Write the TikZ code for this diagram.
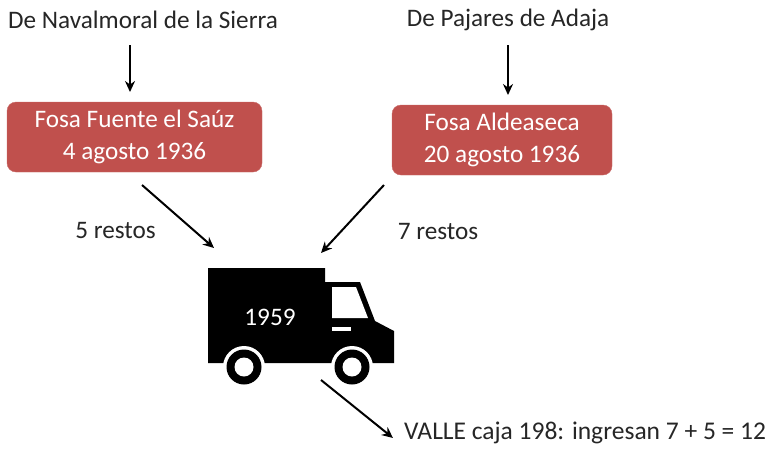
\documentclass[tikz,border=0pt]{standalone}
\usepackage{fontspec}
\setmainfont{Carlito}
\usetikzlibrary{arrows.meta}
\definecolor{fosa}{RGB}{192,80,77}
\definecolor{txt}{RGB}{38,38,38}
\tikzset{
 fosabox/.style={draw=fosa!85!white,fill=fosa,rounded corners=9pt,text=white,align=center,font=\fontsize{25.2}{32}\selectfont,anchor=center},
 lbl/.style={text=txt,font=\fontsize{25.2}{30}\selectfont,inner sep=0pt},
 arr/.style={-{Stealth[length=11pt,width=10pt]},line width=2pt,black},
}
\begin{document}
\begin{tikzpicture}[x=1pt,y=-1pt]
\useasboundingbox (0,0) rectangle (766,448);
\fill[white] (0,0) rectangle (766,448);
% truck
\fill[black] (208,268) -- (325,268) -- (325,282) -- (360,282) -- (375,321) -- (394,331) -- (394,363) -- (208,363) -- cycle;
\foreach \cx in {244,352}{
 \fill[white] (\cx,367) circle (21);
 \fill[black] (\cx,367) circle (17.5);
 \fill[white] (\cx,367) circle (9.5);
}
\fill[white] (332,287) -- (356,287) -- (368,318) -- (332,318) -- cycle;
\fill[white] (332,327) rectangle (351,331);
\fill[white] (190,384.5) rectangle (410,395);
\node[inner sep=0pt,text=white,font=\fontsize{25.2}{30}\selectfont] (yr) at (270,317) {1959};
% nodes
\node[fosabox,minimum width=255pt,minimum height=70pt] (f1) at (134.5,137) {\raisebox{-1pt}{Fosa Fuente el Saúz}\\\raisebox{-1pt}{4 agosto 1936}};
\node[fosabox,minimum width=220pt,minimum height=70pt] (f2) at (502,140) {\raisebox{-1pt}{Fosa Aldeaseca}\\\raisebox{-1pt}{20 agosto 1936}};
\node[lbl] (o1) at (143,20) {De Navalmoral de la Sierra};
\node[lbl] (o2) at (508,20) {De Pajares de Adaja};
\node[lbl] (r5) at (115.5,231) {5 restos};
\node[lbl] (r7) at (438,232) {7 restos};
\node[lbl,anchor=west,font=\fontsize{25.5}{30}\selectfont] (valle) at (404,433) {VALLE caja 198: ingresan 7 + 5 = 12};
% connector anchors
\coordinate (a1) at (130,45);
\coordinate (a2) at (130,92);
\coordinate (b1) at (508,45);
\coordinate (b2) at (508,95);
\coordinate (c1) at (142,185);
\coordinate (c2) at (214,248);
\coordinate (d1) at (384,185);
\coordinate (d2) at (321,253);
\coordinate (e1) at (321,380);
\coordinate (e2) at (393,438);
\draw[arr] (a1) -- (a2);
\draw[arr] (b1) -- (b2);
\draw[arr] (c1) -- (c2);
\draw[arr] (d1) -- (d2);
\draw[arr] (e1) -- (e2);
\end{tikzpicture}
\end{document}
